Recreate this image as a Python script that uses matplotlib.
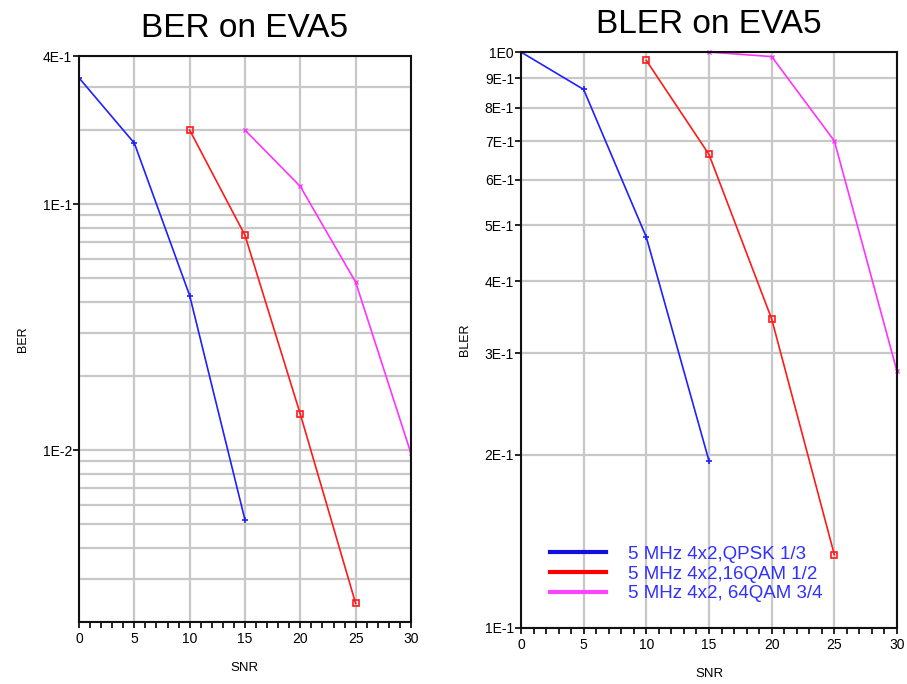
import numpy as np
import matplotlib
matplotlib.use("Agg")
import matplotlib.pyplot as plt
from matplotlib.ticker import FixedLocator, FixedFormatter, MultipleLocator, NullFormatter

plt.rcParams['font.family'] = ['Liberation Sans', 'DejaVu Sans']

# data
snr_qpsk = [0, 5, 10, 15]
snr_16qam = [10, 15, 20, 25]
snr_64qam = [15, 20, 25, 30]

ber_qpsk = [0.326, 0.177, 0.0425, 0.0052]
ber_16qam = [0.2, 0.0747, 0.014, 0.00238]
ber_64qam = [0.2, 0.118, 0.0482, 0.0097]

bler_qpsk = [1.0, 0.861, 0.477, 0.195]
bler_16qam = [0.967, 0.664, 0.344, 0.134]
bler_64qam = [1.0, 0.982, 0.701, 0.279]

labels = ['5 MHz 4x2,QPSK 1/3', '5 MHz 4x2,16QAM 1/2', '5 MHz 4x2, 64QAM 3/4']

ber_ticks = [0.4, 0.1, 0.01]
ber_ticklabels = ['4E-1', '1E-1', '1E-2']
bler_ticks = [1.0, 0.9, 0.8, 0.7, 0.6, 0.5, 0.4, 0.3, 0.2, 0.1]
bler_ticklabels = ['1E0', '9E-1', '8E-1', '7E-1', '6E-1', '5E-1', '4E-1', '3E-1', '2E-1', '1E-1']

blue = '#2020ff'
red = '#ff1a1a'
magenta = '#ff33ff'
grid_col = '#c8c8c8'


def style_axes(ax, ylim, ticks, ticklabels, minor_y):
    ax.set_yscale('log')
    ax.set_xlim(0, 30)
    ax.set_ylim(*ylim)
    ax.xaxis.set_major_locator(MultipleLocator(5))
    ax.xaxis.set_minor_locator(MultipleLocator(1))
    ax.yaxis.set_major_locator(FixedLocator(ticks))
    ax.yaxis.set_major_formatter(FixedFormatter(ticklabels))
    ax.yaxis.set_minor_locator(FixedLocator(minor_y))
    ax.yaxis.set_minor_formatter(NullFormatter())
    ax.grid(True, which='major', color=grid_col, lw=1.6)
    ax.grid(True, which='minor', axis='y', color=grid_col, lw=1.6)
    ax.tick_params(axis='x', which='both', direction='out', length=4, width=1.2,
                   labelsize=10, pad=3)
    ax.tick_params(axis='y', which='major', direction='out', length=4, width=1.2,
                   labelsize=10, pad=1)
    ax.tick_params(axis='y', which='minor', length=0)
    for s in ax.spines.values():
        s.set_linewidth(1.5)
        s.set_color('#111111')
    ax.set_axisbelow(True)


fig = plt.figure(figsize=(9.07, 6.84), dpi=100)

# BER
ax1 = fig.add_axes([0.0871, 0.0906, 0.366, 0.8275])
ber_minor = [m * 10.0 ** e for e in (-3, -2, -1) for m in range(1, 10)]
style_axes(ax1, (2e-3, 4e-1), ber_ticks, ber_ticklabels, ber_minor)
ax1.plot(snr_qpsk, ber_qpsk, color=blue, lw=1.2, marker='+', ms=5, mew=1.2)
ax1.plot(snr_16qam, ber_16qam, color=red, lw=1.2, marker='s', ms=4.5,
         mfc='none', mew=1.2)
ax1.plot(snr_64qam, ber_64qam, color=magenta, lw=1.2, marker='x', ms=3, mew=1)
ax1.set_title('BER on EVA5', fontsize=24, pad=14)
ax1.set_ylabel('BER', fontsize=9, labelpad=10)
ax1.set_xlabel('SNR', fontsize=9.5, labelpad=12)

# BLER
ax2 = fig.add_axes([0.5744, 0.0819, 0.4146, 0.842])
style_axes(ax2, (0.1, 1.0), bler_ticks, bler_ticklabels, bler_ticks)
ax2.plot(snr_qpsk, bler_qpsk, color=blue, lw=1.2, marker='+', ms=5, mew=1.2)
ax2.plot(snr_16qam, bler_16qam, color=red, lw=1.2, marker='s', ms=4.5,
         mfc='none', mew=1.2)
ax2.plot(snr_64qam, bler_64qam, color=magenta, lw=1.2, marker='x', ms=3,
         mew=1, clip_on=False)
ax2.set_title('BLER on EVA5', fontsize=24, pad=14)
ax2.set_ylabel('BLER', fontsize=9, labelpad=10)
ax2.set_xlabel('SNR', fontsize=9.5, labelpad=12)

h1 = plt.Line2D([], [], color='#1010e0', lw=3)
h2 = plt.Line2D([], [], color='#ff0000', lw=3)
h3 = plt.Line2D([], [], color='#ff44ff', lw=3)
leg = ax2.legend([h1, h2, h3], labels, loc='lower left',
                 bbox_to_anchor=(0.031, 0.015), frameon=False, fontsize=13.5,
                 handlelength=3.0, handletextpad=1.17, labelspacing=0.15)
for t in leg.get_texts():
    t.set_color('#3030ff')

fig.savefig('out.png', dpi=100)
